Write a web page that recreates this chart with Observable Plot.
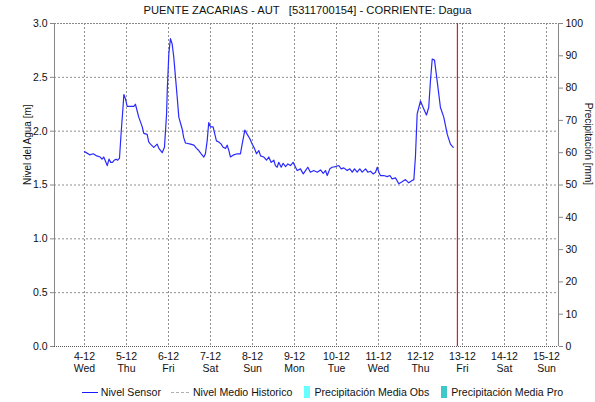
<!DOCTYPE html>
<html><head><meta charset="utf-8">
<script src="https://cdn.jsdelivr.net/npm/d3@7"></script>
<script src="https://cdn.jsdelivr.net/npm/@observablehq/plot@0.6"></script>
<style>
body{margin:0;background:#fff;font-family:"Liberation Sans",Arial,sans-serif;}
#title{position:absolute;top:4px;left:0;width:595px;text-align:center;font-size:11.2px;color:#111;padding-left:20px;box-sizing:border-box;white-space:pre;}
#legend{position:absolute;top:386px;left:0;width:595px;display:flex;justify-content:center;font-size:10.6px;color:#111;white-space:nowrap;padding-left:50px;box-sizing:border-box;}
.it{display:inline-flex;align-items:center;margin:0 5px;}
</style></head>
<body><div id="chart"></div><div id="title"></div><div id="legend"></div>
<script>
const title = "PUENTE ZACARIAS - AUT   [5311700154] - CORRIENTE: Dagua";
// hours since 2024-12-04 00:00 and water level (m)
const hours = [0,3,5,7,9,10,11,12,13,14,15,16,17,18,19,20,21,22,22.5,23.4,24.4,28.2,29.1,31,33,33.9,35.8,36.7,37.7,39.6,41.5,42.5,44.4,45.7,46.9,47.3,48.2,49.1,50.1,51,52,53,53.9,55.8,56.7,57.7,60.6,62.5,64,65.3,66.7,68.2,69.1,70.1,71,72,73.5,74.5,75.4,76.7,78.1,79.2,80.6,81.5,82.5,83.4,85.3,87.3,89.1,90.1,91.6,93,94.5,95.8,97.1,98.3,99.6,100.6,102.5,104,105.3,106.7,108.2,109.1,110.1,111,112.4,113.5,114.9,116.2,117.7,119.2,120.6,121.5,123.4,125,126.3,127.6,129.1,131,133,134.9,136.4,137.7,138.7,140.2,141.5,143.4,145.3,146.7,148.2,150.1,151.6,153,154.3,155.8,157.3,158.7,160.6,161.9,163.4,164.9,166.3,167.3,168.2,169.1,171,173,174.5,175.8,177.7,179.6,181.5,183.4,185.3,187,188.2,189.1,190.1,192,193.5,195.4,196.7,197.7,198.7,200,201.5,203.4,205.3,207.3,209.1,210.7];
const nivel = [1.81,1.78,1.79,1.77,1.76,1.74,1.76,1.72,1.68,1.74,1.71,1.71,1.73,1.74,1.73,1.75,2.0,2.22,2.34,2.30,2.23,2.23,2.25,2.13,2.04,1.98,1.97,1.90,1.88,1.85,1.88,1.84,1.80,1.85,2.16,2.38,2.72,2.86,2.81,2.69,2.50,2.31,2.13,2.02,1.94,1.89,1.88,1.87,1.84,1.82,1.79,1.76,1.79,1.91,2.08,2.04,2.04,1.97,1.91,1.90,1.88,1.85,1.84,1.87,1.82,1.76,1.78,1.79,1.79,1.88,2.01,1.97,1.93,1.88,1.84,1.79,1.82,1.77,1.76,1.73,1.76,1.71,1.73,1.68,1.665,1.711,1.665,1.702,1.671,1.696,1.681,1.711,1.665,1.634,1.650,1.603,1.634,1.665,1.619,1.634,1.619,1.640,1.609,1.634,1.588,1.650,1.665,1.671,1.681,1.650,1.659,1.634,1.650,1.619,1.650,1.619,1.650,1.619,1.650,1.619,1.628,1.603,1.619,1.665,1.619,1.588,1.588,1.578,1.588,1.557,1.566,1.511,1.53,1.55,1.52,1.54,1.55,1.76,2.16,2.28,2.22,2.15,2.22,2.47,2.67,2.66,2.47,2.22,2.13,1.97,1.88,1.85];
const dayLabels = ["4-12","5-12","6-12","7-12","8-12","9-12","10-12","11-12","12-12","13-12","14-12","15-12"];
const weekdays = ["Wed","Thu","Fri","Sat","Sun","Mon","Tue","Wed","Thu","Fri","Sat","Sun"];
const yTicks = [0,0.5,1,1.5,2,2.5,3];
const precipTicks = [0,10,20,30,40,50,60,70,80,90,100];
const nowHour = 213.1;
const domainHours = [-17.14, 270.86];

const base = Date.UTC(2024,11,4);
const toDate = h => new Date(base + h*3600e3);
const data = hours.map((h,i)=>({t:toDate(h), v:nivel[i]}));
const dayDates = dayLabels.map((l,i)=>toDate(24*i));
const days = dayLabels.map((l,i)=>({t:dayDates[i], label:l+"\n"+weekdays[i]}));
const pScale = 3/100;

document.getElementById("title").textContent = title;

const chart = Plot.plot({
  width:595, height:402,
  marginTop:23, marginBottom:56, marginLeft:54, marginRight:37,
  style:{fontFamily:"Liberation Sans, Arial, sans-serif", fontSize:"10.5px"},
  x:{type:"utc", domain:domainHours.map(toDate), axis:null},
  y:{domain:[0,3], axis:null},
  marks:[
    Plot.ruleX(dayDates, {stroke:"#909090", strokeDasharray:"2,2"}),
    Plot.ruleY(yTicks.slice(1,-1), {stroke:"#909090", strokeDasharray:"2,2"}),
    Plot.ruleY([3], {stroke:"#888888", strokeDasharray:"2,1"}),
    Plot.ruleY([0], {stroke:"#555555", strokeDasharray:"1,1"}),
    Plot.ruleX(domainHours.map(toDate), {stroke:"#888888"}),
    Plot.axisY(yTicks, {anchor:"left", tickFormat:d=>d.toFixed(1), tickSize:4, tickPadding:3, stroke:"#888", fill:"#111", label:null}),
    Plot.axisY(precipTicks.map(v=>v*pScale), {anchor:"right", tickFormat:d=>String(Math.round(d/pScale)), tickSize:4, tickPadding:3, stroke:"#888", fill:"#111", label:null}),
    Plot.text(days, {x:"t", text:"label", frameAnchor:"bottom", dy:25, lineHeight:1.1, fill:"#111", fontSize:10.5}),
    Plot.text(["Nivel del Agua [m]"], {frameAnchor:"left", dx:-27, rotate:-90, fill:"#111", fontSize:10}),
    Plot.text(["Precipitación [mm]"], {frameAnchor:"right", dx:30, rotate:90, fill:"#111", fontSize:10}),
    Plot.ruleX([toDate(nowHour)], {stroke:"#cc2222", strokeWidth:1.2}),
    Plot.line(data, {x:"t", y:"v", stroke:"#2a2aff", strokeWidth:1.2})
  ]
});
document.getElementById("chart").appendChild(chart);

const legendItems = [
  {label:"Nivel Sensor", kind:"line", color:"#1a1aff"},
  {label:"Nivel Medio Historico", kind:"dash", color:"#b0b0b0"},
  {label:"Precipitación Media Obs", kind:"box", color:"#66ffff"},
  {label:"Precipitación Media Pro", kind:"box", color:"#40c8c8"}
];
const lg = document.getElementById("legend");
legendItems.forEach(it=>{
  const s = document.createElement("span"); s.className="it";
  const sw = document.createElement("span");
  if(it.kind==="line"){sw.style.cssText=`display:inline-block;width:16px;height:0;border-top:1.5px solid ${it.color};margin-right:3px`;}
  else if(it.kind==="dash"){sw.style.cssText=`display:inline-block;width:18px;height:0;border-top:1.5px dashed ${it.color};margin-right:4px`;}
  else {sw.style.cssText=`display:inline-block;width:6px;height:12px;background:${it.color};margin-right:4px;margin-left:2px`;}
  s.appendChild(sw);
  const t=document.createElement("span"); t.textContent=it.label; s.appendChild(t);
  lg.appendChild(s);
});
</script></body></html>
